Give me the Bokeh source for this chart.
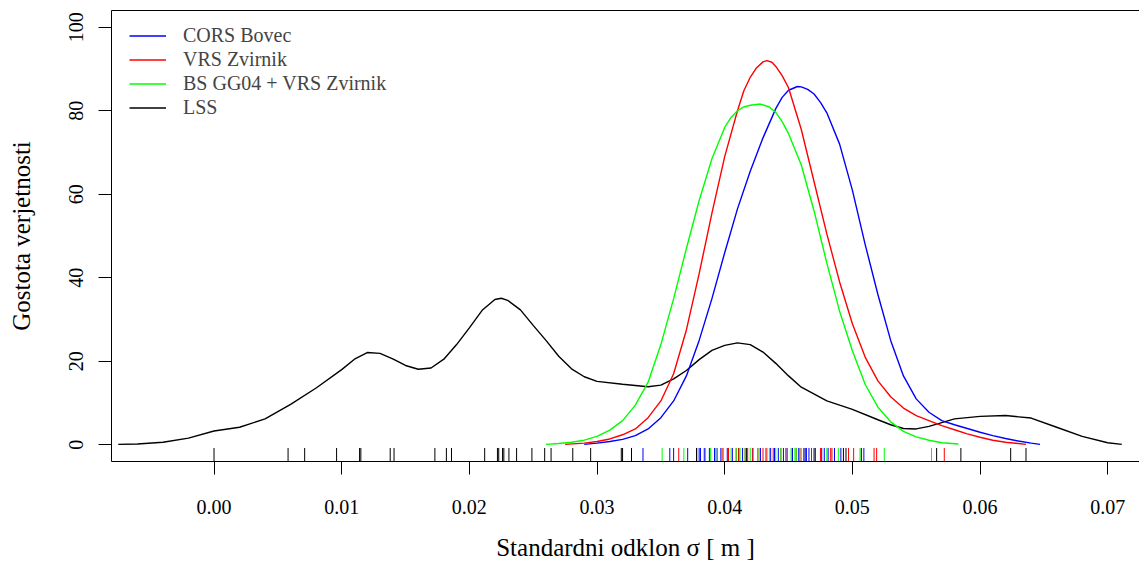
from bokeh.plotting import figure
from bokeh.models import LinearAxis, FixedTicker, Range1d, Legend, LegendItem
from bokeh.embed import file_html
from bokeh.resources import INLINE

# ---------------- data ----------------
series_names = ["CORS Bovec", "VRS Zvirnik", "BS GG04 + VRS Zvirnik", "LSS"]
series_colors = ["#0000FF", "#FF0000", "#00FF00", "#000000"]

# density curves (x = standard deviation [m], y = density)
lss_x = [-0.0075, -0.006, -0.004, -0.002, 0.000, 0.002, 0.004, 0.006, 0.008, 0.010,
         0.011, 0.012, 0.013, 0.014, 0.015, 0.016, 0.017, 0.018, 0.019, 0.020,
         0.021, 0.022, 0.0225, 0.023, 0.024, 0.025, 0.026, 0.027, 0.028, 0.029,
         0.030, 0.032, 0.034, 0.035, 0.036, 0.037, 0.038, 0.039, 0.040, 0.041,
         0.042, 0.043, 0.044, 0.045, 0.046, 0.048, 0.050, 0.052, 0.053, 0.054,
         0.055, 0.056, 0.058, 0.060, 0.062, 0.064, 0.066, 0.068, 0.070, 0.0711]
lss_y = [0.1, 0.2, 0.6, 1.6, 3.3, 4.2, 6.2, 9.7, 13.6, 18.0,
         20.5, 22.1, 21.9, 20.6, 19.0, 18.1, 18.4, 20.5, 24.0, 28.0,
         32.2, 34.8, 35.1, 34.6, 32.3, 28.6, 25.0, 21.2, 18.2, 16.3,
         15.2, 14.5, 13.9, 14.3, 15.8, 17.8, 20.4, 22.6, 23.8, 24.4,
         24.0, 22.2, 19.5, 16.5, 13.8, 10.5, 8.5, 6.0, 4.8, 3.9,
         3.8, 4.4, 6.2, 6.8, 7.0, 6.4, 4.2, 2.0, 0.5, 0.1]

cors_x = [0.029, 0.030, 0.031, 0.032, 0.033, 0.034, 0.035, 0.036, 0.037, 0.038,
          0.039, 0.040, 0.041, 0.042, 0.043, 0.044, 0.0445, 0.045, 0.0457, 0.046,
          0.0465, 0.047, 0.0475, 0.048, 0.049, 0.050, 0.051, 0.052, 0.053, 0.054,
          0.055, 0.056, 0.057, 0.058, 0.059, 0.060, 0.061, 0.062, 0.063, 0.064, 0.0647]
cors_y = [0.1, 0.4, 0.8, 1.3, 2.2, 3.8, 6.5, 10.5, 16.5, 25.0,
          35.0, 46.0, 56.5, 65.5, 73.5, 80.5, 83.2, 84.9, 85.8, 85.7,
          85.1, 84.0, 82.0, 79.5, 72.0, 61.0, 48.0, 36.0, 25.0, 16.5,
          11.0, 7.8, 5.8, 4.8, 3.9, 3.0, 2.2, 1.5, 0.9, 0.4, 0.1]

vrs_x = [0.0275, 0.029, 0.030, 0.031, 0.032, 0.033, 0.034, 0.035, 0.036, 0.037,
         0.038, 0.039, 0.040, 0.041, 0.0415, 0.042, 0.0425, 0.043, 0.0433, 0.0437,
         0.044, 0.0445, 0.045, 0.046, 0.047, 0.048, 0.049, 0.050, 0.051, 0.052,
         0.053, 0.054, 0.055, 0.056, 0.057, 0.058, 0.059, 0.060, 0.061, 0.062,
         0.063, 0.0636]
vrs_y = [0.1, 0.4, 0.8, 1.4, 2.4, 3.8, 6.5, 10.5, 17.0, 27.5,
         41.0, 55.5, 69.0, 80.0, 84.8, 88.0, 90.3, 91.7, 92.0, 91.6,
         90.6, 88.4, 85.5, 75.5, 63.0, 50.5, 39.0, 29.0, 21.0, 15.3,
         11.5, 8.8, 7.0, 5.8, 4.6, 3.6, 2.6, 1.8, 1.1, 0.6,
         0.3, 0.1]

bs_x = [0.026, 0.027, 0.028, 0.029, 0.030, 0.031, 0.032, 0.033, 0.034, 0.035,
        0.036, 0.037, 0.038, 0.039, 0.040, 0.0405, 0.041, 0.0415, 0.042, 0.0428,
        0.0435, 0.044, 0.0445, 0.045, 0.046, 0.047, 0.048, 0.049, 0.050, 0.051,
        0.052, 0.053, 0.054, 0.055, 0.056, 0.057, 0.0583]
bs_y = [0.1, 0.3, 0.6, 1.1, 2.0, 3.5, 5.8, 9.5, 15.0, 24.0,
        35.0, 47.0, 58.5, 68.5, 76.0, 78.4, 80.0, 80.9, 81.3, 81.6,
        80.9, 79.6, 77.4, 74.5, 67.0, 56.0, 43.5, 32.0, 22.5, 14.5,
        9.0, 5.5, 3.2, 1.9, 1.1, 0.5, 0.2]

# rug (individual observations)
lss_rug = [0.0000, 0.0058, 0.0071, 0.0096, 0.0114, 0.0115, 0.0138, 0.0141, 0.0173, 0.0182,
           0.0186, 0.0212, 0.0222, 0.0223, 0.0226, 0.0227, 0.0231, 0.0237, 0.0249, 0.0259,
           0.0264, 0.0281, 0.0295, 0.0319, 0.0320, 0.0327, 0.0378, 0.0378, 0.0411, 0.0417,
           0.0453, 0.0463, 0.0470, 0.0493, 0.0495, 0.0507, 0.0566, 0.0585, 0.0624, 0.0636]
cors_rug = [0.0336, 0.0357, 0.0360, 0.0371, 0.0380, 0.0381, 0.0384, 0.0388, 0.0392, 0.0394,
            0.0397, 0.0402, 0.0403, 0.0406, 0.0414, 0.0422, 0.0428, 0.0436, 0.0439, 0.0442,
            0.0446, 0.0448, 0.0453, 0.0458, 0.0462, 0.0464, 0.0466, 0.0471, 0.0476, 0.0478,
            0.0481, 0.0486, 0.0491, 0.0509]
vrs_rug = [0.0364, 0.0398, 0.0403, 0.0409, 0.0411, 0.0416, 0.0418, 0.0422, 0.0426, 0.0430,
           0.0433, 0.0438, 0.0444, 0.0449, 0.0456, 0.0459, 0.0468, 0.0475, 0.0483, 0.0484,
           0.0497, 0.0501, 0.0517, 0.0519, 0.0572]
bs_rug = [0.0351, 0.0368, 0.0385, 0.0389, 0.0393, 0.0399, 0.0405, 0.0409, 0.0412, 0.0416,
          0.0420, 0.0427, 0.0432, 0.0435, 0.0440, 0.0444, 0.0452, 0.0455, 0.0456, 0.0460,
          0.0480, 0.0489, 0.0506, 0.0525, 0.0562]

x_ticks = [0.00, 0.01, 0.02, 0.03, 0.04, 0.05, 0.06, 0.07]
x_tick_labels = ["0.00", "0.01", "0.02", "0.03", "0.04", "0.05", "0.06", "0.07"]
y_ticks = [0, 20, 40, 60, 80, 100]

x_title = "Standardni odklon σ [ m ]"
y_title = "Gostota verjetnosti"

# ---------------- figure ----------------
FONT = "Liberation Serif"

p = figure(width=1139, height=563,
           x_range=Range1d(-0.00803, 0.07249), y_range=Range1d(-4, 104),
           output_backend="svg", toolbar_location=None,
           min_border_left=111, min_border_right=0, min_border_top=10, min_border_bottom=102,
           background_fill_color="white", border_fill_color="white")
p.outline_line_color = None
p.grid.visible = False

# axes
xa = p.xaxis[0]
xa.ticker = FixedTicker(ticks=x_ticks)
xa.major_label_overrides = {t: l for t, l in zip(x_ticks, x_tick_labels)}
ya = p.yaxis[0]
ya.ticker = FixedTicker(ticks=y_ticks)
for ax in (xa, ya):
    ax.axis_line_color = "black"
    ax.axis_line_width = 1
    ax.major_tick_line_color = "black"
    ax.major_tick_line_width = 1
    ax.major_tick_out = 13
    ax.major_tick_in = 0
    ax.minor_tick_line_color = None
    ax.major_label_text_font = FONT
    ax.major_label_text_font_size = "20px"
    ax.major_label_text_color = "black"
    ax.axis_label_text_font = FONT
    ax.axis_label_text_font_size = "25px"
    ax.axis_label_text_font_style = "normal"
    ax.axis_label_text_color = "black"
xa.axis_label = x_title
xa.major_label_standoff = 25
xa.axis_label_standoff = 17
ya.axis_label = y_title
ya.major_label_orientation = "vertical"
ya.major_label_standoff = 15
ya.axis_label_standoff = 32

top = LinearAxis(ticker=FixedTicker(ticks=[]), axis_line_color="black", axis_line_width=1,
                 major_tick_out=0, major_tick_in=0, minor_tick_out=0, minor_tick_in=0,
                 major_label_standoff=0, major_label_text_font_size="0px")
p.add_layout(top, "above")

# curves
r_lss = p.line(lss_x, lss_y, line_color=series_colors[3], line_width=1.4)
r_cors = p.line(cors_x, cors_y, line_color=series_colors[0], line_width=1.4)
r_vrs = p.line(vrs_x, vrs_y, line_color=series_colors[1], line_width=1.4)
r_bs = p.line(bs_x, bs_y, line_color=series_colors[2], line_width=1.4)

# rugs
RUG_LO, RUG_HI = -4, -0.76
for vals, col in [(lss_rug, series_colors[3]), (cors_rug, series_colors[0]),
                  (vrs_rug, series_colors[1]), (bs_rug, series_colors[2])]:
    p.segment(x0=vals, y0=[RUG_LO] * len(vals), x1=vals, y1=[RUG_HI] * len(vals),
              line_color=col, line_width=1)

legend = Legend(items=[LegendItem(label=series_names[0], renderers=[r_cors]),
                       LegendItem(label=series_names[1], renderers=[r_vrs]),
                       LegendItem(label=series_names[2], renderers=[r_bs]),
                       LegendItem(label=series_names[3], renderers=[r_lss])],
                location=(18, 342), margin=0, padding=0,
                glyph_width=37, glyph_height=15, label_height=15, spacing=1,
                label_standoff=17, label_text_font=FONT, label_text_font_size="20px",
                border_line_color=None, background_fill_alpha=0)
p.add_layout(legend)

open("out.html", "w").write(file_html(p, INLINE))
